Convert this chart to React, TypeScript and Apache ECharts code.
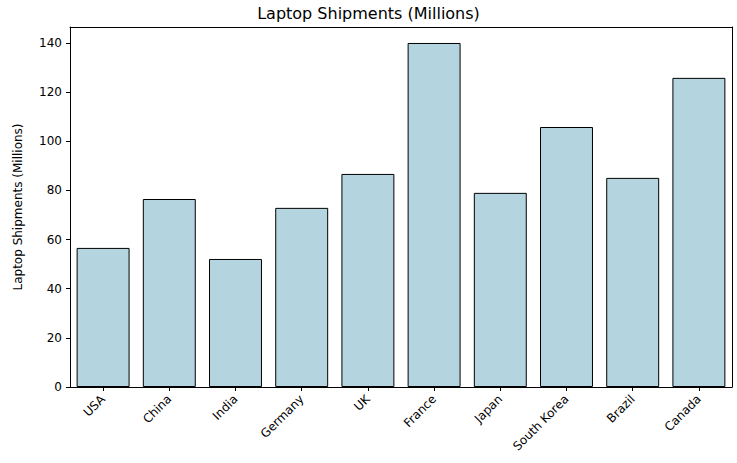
import React, { useEffect, useRef } from 'react';
import * as echarts from 'echarts';

const countries = ['USA', 'China', 'India', 'Germany', 'UK', 'France', 'Japan', 'South Korea', 'Brazil', 'Canada'];
const shipments = [56.6, 76.5, 52.1, 72.9, 86.7, 140.0, 79.0, 105.8, 85.1, 125.8];
const yTicks = [0, 20, 40, 60, 80, 100, 120, 140];

const font = 'DejaVu Sans';

const App: React.FC = () => {
  const chartRef = useRef<HTMLDivElement>(null);

  useEffect(() => {
    document.body.style.margin = '0';
    if (!chartRef.current) return;
    const chart = echarts.init(chartRef.current, undefined, { renderer: 'svg' });

    const frame = { show: true, onZero: false, lineStyle: { color: '#000', width: 1 } };

    chart.setOption({
      animation: false,
      backgroundColor: '#fff',
      textStyle: { fontFamily: font },
      title: {
        text: 'Laptop Shipments (Millions)',
        left: 'center',
        top: 0,
        textStyle: { fontFamily: font, fontSize: 16, fontWeight: 'normal', color: '#000' },
      },
      grid: { left: 70, right: 5, top: 27, bottom: 76 },
      xAxis: [
        {
          type: 'category',
          data: countries,
          axisLine: frame,
          axisTick: { show: true, alignWithLabel: true, length: 4, lineStyle: { color: '#000' } },
          axisLabel: { rotate: 45, color: '#000', fontSize: 12, fontFamily: font, margin: 10 },
        },
        {
          type: 'category',
          position: 'top',
          data: countries,
          axisLine: frame,
          axisTick: { show: false },
          axisLabel: { show: false },
        },
      ],
      yAxis: [
        {
          type: 'value',
          min: 0,
          max: 146.5,
          interval: 20,
          name: 'Laptop Shipments (Millions)',
          nameLocation: 'middle',
          nameGap: 46,
          nameTextStyle: { color: '#000', fontSize: 12, fontFamily: font },
          axisLine: frame,
          axisTick: { show: true, length: 4, lineStyle: { color: '#000' }, customValues: yTicks },
          axisLabel: { color: '#000', fontSize: 12, fontFamily: font, customValues: yTicks },
          splitLine: { show: false },
        },
        {
          type: 'value',
          position: 'right',
          min: 0,
          max: 146.5,
          axisLine: frame,
          axisTick: { show: false },
          axisLabel: { show: false },
          splitLine: { show: false },
        },
      ],
      series: [
        {
          type: 'bar',
          data: shipments,
          barCategoryGap: '20%',
          itemStyle: { color: '#b4d5df', borderColor: '#000', borderWidth: 1 },
        },
      ],
    });

    return () => chart.dispose();
  }, []);

  return <div ref={chartRef} style={{ width: 737, height: 463 }} />;
};

export default App;
